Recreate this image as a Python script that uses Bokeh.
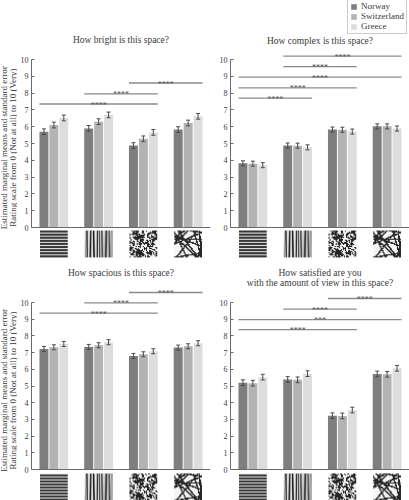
import math
import numpy as np
from bokeh.plotting import figure
from bokeh.models import (Range1d, ColumnDataSource, Whisker, TeeHead, Label, Span,
                          Legend, LegendItem, FixedTicker, LinearColorMapper)
from bokeh.layouts import column, row
from bokeh.embed import file_html
from bokeh.resources import INLINE
from bokeh.core.properties import value

FONT = "Liberation Serif"
TEXT = "#3a3a3a"

# ---------------- data ----------------
countries = ["Norway", "Switzerland", "Greece"]
bar_colors = ["#7e7e7e", "#b3b3b3", "#dddddd"]
stimuli = [0, 1, 2, 3]

ylabel_lines = ["Estimated marginal means and standard error",
                "Rating scale from 0 (Not at all) to 10 (Very)"]
y_ticks = [0, 1, 2, 3, 4, 5, 6, 7, 8, 9, 10]

bright_title = ["How bright is this space?"]
bright_norway = [5.70, 5.90, 4.88, 5.83]
bright_switz = [6.10, 6.30, 5.28, 6.22]
bright_greece = [6.52, 6.70, 5.66, 6.62]
bright_se = 0.17
bright_sig = [(0, 2, 7.35, "****"), (1, 2, 7.95, "****"), (2, 3, 8.60, "****")]

complex_title = ["How complex is this space?"]
complex_norway = [3.82, 4.88, 5.83, 6.02]
complex_switz = [3.80, 4.87, 5.82, 6.02]
complex_greece = [3.71, 4.77, 5.71, 5.89]
complex_se = 0.15
complex_sig = [(0, 1, 7.70, "****"), (0, 2, 8.31, "****"), (0, 3, 8.95, "****"),
               (1, 2, 9.58, "****"), (1, 3, 10.20, "****")]

spacious_title = ["How spacious is this space?"]
spacious_norway = [7.22, 7.34, 6.80, 7.30]
spacious_switz = [7.32, 7.44, 6.90, 7.38]
spacious_greece = [7.52, 7.62, 7.08, 7.56]
spacious_se = 0.15
spacious_sig = [(0, 2, 9.36, "****"), (1, 2, 9.98, "****"), (2, 3, 10.60, "****")]

satisfied_title = ["How satisfied are you", "with the amount of view in this space?"]
satisfied_norway = [5.20, 5.39, 3.22, 5.72]
satisfied_switz = [5.17, 5.37, 3.21, 5.70]
satisfied_greece = [5.53, 5.74, 3.56, 6.06]
satisfied_se = 0.17
satisfied_sig = [(0, 2, 8.37, "****"), (0, 3, 8.98, "***"), (1, 2, 9.60, "****"), (2, 3, 10.24, "****")]


# ---------------- stimulus textures (decorative) ----------------
def _hash(c, r, s):
    v = np.sin(c * 12.9898 + r * 78.233 + s * 37.719) * 43758.5453
    return v - np.floor(v)


TH, TW = 27, 28
rr, cc = np.mgrid[0:TH, 0:TW].astype(float)

tex_hstripes = np.where(rr % 3 < 1.5, 55.0, 230.0)
tex_vstripes = 135 + 105 * np.sin(cc * 2.1 + 1.2 * np.sin(cc * 0.45) + rr * 0.05 * np.sin(cc * 0.8 + 1.0))
n = _hash(cc, rr, 1.0)
n = (n + np.roll(n, 1, 0) + np.roll(n, 1, 1)) / 3.0
tex_noise = np.where(n > 0.5, 240.0, 35.0)
tex_net = np.full((TH, TW), 245.0)
for k in range(16):
    th = k * 2.39996 + 0.3
    off = (_hash(k, 3.0, 7.0) - 0.5) * 26
    d = np.abs((cc - TW / 2) * np.cos(th) + (rr - TH / 2) * np.sin(th) - off)
    tex_net = np.where(d < 0.75, 40.0, tex_net)
textures = [tex_hstripes, tex_vstripes, tex_noise, tex_net]

grey_mapper = LinearColorMapper(palette="Greys256", low=0, high=255)


def base_fig(width, height, y0, y1, bl, br):
    p = figure(width=width, height=height, output_backend="svg", toolbar_location=None,
               x_range=Range1d(-0.5, 3.5), y_range=Range1d(y0, y1), x_axis_location=None,
               min_border_left=bl, min_border_right=br, min_border_top=0, min_border_bottom=0,
               outline_line_color=None, tools="")
    p.grid.visible = False
    p.background_fill_color = "white"
    p.border_fill_color = "white"
    return p


def make_ylabel_fig(width, height, y0, y1, ycenter):
    q = figure(width=width, height=height, output_backend="svg", toolbar_location=None,
               x_range=Range1d(0, width), y_range=Range1d(y0, y1), x_axis_location=None,
               y_axis_location=None, min_border_left=0, min_border_right=0, min_border_top=0,
               min_border_bottom=0, outline_line_color=None, tools="")
    q.grid.visible = False
    q.text(x=[3.8, 12.4], y=[ycenter, ycenter], text=ylabel_lines, angle=math.pi / 2,
           text_align="center", text_baseline="middle", text_font=value(FONT),
           text_font_size="9px", text_color=TEXT)
    return q


def make_panel(title_lines, title_ys, series, se, sigs, width, height, bl, br,
               y0, y1, img_top, img_h, legend_loc=None):
    p = base_fig(width, height, y0, y1, bl, br)

    ax = p.yaxis[0]
    ax.ticker = FixedTicker(ticks=y_ticks)
    ax.bounds = (0, 10)
    ax.major_tick_in = 3
    ax.major_tick_out = 0
    ax.minor_tick_line_color = None
    ax.axis_line_color = "#6a6a6a"
    ax.major_tick_line_color = "#6a6a6a"
    ax.major_label_standoff = 3
    ax.major_label_text_font = FONT
    ax.major_label_text_font_size = "8px"
    ax.major_label_text_color = TEXT

    p.add_layout(Span(location=0, dimension="width", line_color="#6a6a6a", line_width=1))

    offsets = [-0.222, 0.0, 0.222]
    items = []
    for name, color, off, vals in zip(countries, bar_colors, offsets, series):
        src = ColumnDataSource(dict(
            x=[s + off for s in stimuli], top=vals,
            upper=[v + se for v in vals], lower=[v - se for v in vals]))
        r = p.vbar(x="x", top="top", bottom=0, width=0.2, source=src,
                   fill_color=color, line_color=None)
        items.append(LegendItem(label=name, renderers=[r]))
        w = Whisker(base="x", upper="upper", lower="lower", source=src,
                    line_color="#4a4a4a", line_width=1,
                    upper_head=TeeHead(size=4, line_color="#4a4a4a", line_width=1),
                    lower_head=TeeHead(size=4, line_color="#4a4a4a", line_width=1))
        w.level = "overlay"
        p.add_layout(w)

    ssrc = ColumnDataSource(dict(
        x0=[a - 0.322 for a, b, y, t in sigs], x1=[b + 0.322 for a, b, y, t in sigs],
        xm=[(a + b) / 2 for a, b, y, t in sigs], y=[y for a, b, y, t in sigs],
        t=[t for a, b, y, t in sigs]))
    p.segment(x0="x0", y0="y", x1="x1", y1="y", source=ssrc, line_color="#8a8a8a", line_width=1.3)
    p.text(x="xm", y="y", text="t", source=ssrc, text_align="center", text_baseline="alphabetic",
           text_font=value(FONT), text_font_size="8px", text_color="#555555", y_offset=1)

    isrc = ColumnDataSource(dict(image=textures, x=[s - 0.31 for s in stimuli],
                                 y=[img_top - img_h] * 4, dw=[0.62] * 4, dh=[img_h] * 4))
    p.image(image="image", x="x", y="y", dw="dw", dh="dh", source=isrc, color_mapper=grey_mapper)

    for line, ty in zip(title_lines, title_ys):
        p.add_layout(Label(x=1.5, y=ty, text=line, text_align="center", text_baseline="middle",
                           text_font=FONT, text_font_size="9.5px", text_color=TEXT))

    if legend_loc is not None:
        lg = Legend(items=items, location=legend_loc, label_text_font=FONT,
                    label_text_font_size="9px", label_text_color=TEXT, label_text_line_height=1.0,
                    glyph_width=7, glyph_height=7, label_height=8, label_standoff=4, spacing=0,
                    padding=2, margin=0, border_line_color="#9a9a9a", border_line_width=1,
                    background_fill_color="white", background_fill_alpha=1)
        p.add_layout(lg)
    return p


TOP_H, BOT_H = 260, 240
LABEL_W, LEFT_W, RIGHT_W = 17, 198, 194
TOP_Y0, TOP_Y1 = -1.964, 13.512
BOT_Y0, BOT_Y1 = -1.856, 12.515

l1 = make_ylabel_fig(LABEL_W, TOP_H, TOP_Y0, TOP_Y1, 4.75)
p1 = make_panel(bright_title, [11.19], [bright_norway, bright_switz, bright_greece], bright_se,
                bright_sig, LEFT_W, TOP_H, 14, 5, TOP_Y0, TOP_Y1, -0.18, 1.6)
p2 = make_panel(complex_title, [11.13], [complex_norway, complex_switz, complex_greece], complex_se,
                complex_sig, RIGHT_W, TOP_H, 15, 0, TOP_Y0, TOP_Y1, -0.18, 1.6, legend_loc=(117, 226))
l3 = make_ylabel_fig(LABEL_W, BOT_H, BOT_Y0, BOT_Y1, 4.73)
p3 = make_panel(spacious_title, [11.74], [spacious_norway, spacious_switz, spacious_greece],
                spacious_se, spacious_sig, LEFT_W, BOT_H, 14, 5, BOT_Y0, BOT_Y1, -0.24, 1.62)
p4 = make_panel(satisfied_title, [11.74, 11.14], [satisfied_norway, satisfied_switz, satisfied_greece],
                satisfied_se, satisfied_sig, RIGHT_W, BOT_H, 15, 0, BOT_Y0, BOT_Y1, -0.24, 1.62)

layout = column(row(l1, p1, p2, spacing=0), row(l3, p3, p4, spacing=0), spacing=0)
open("out.html", "w").write(file_html(layout, INLINE))
